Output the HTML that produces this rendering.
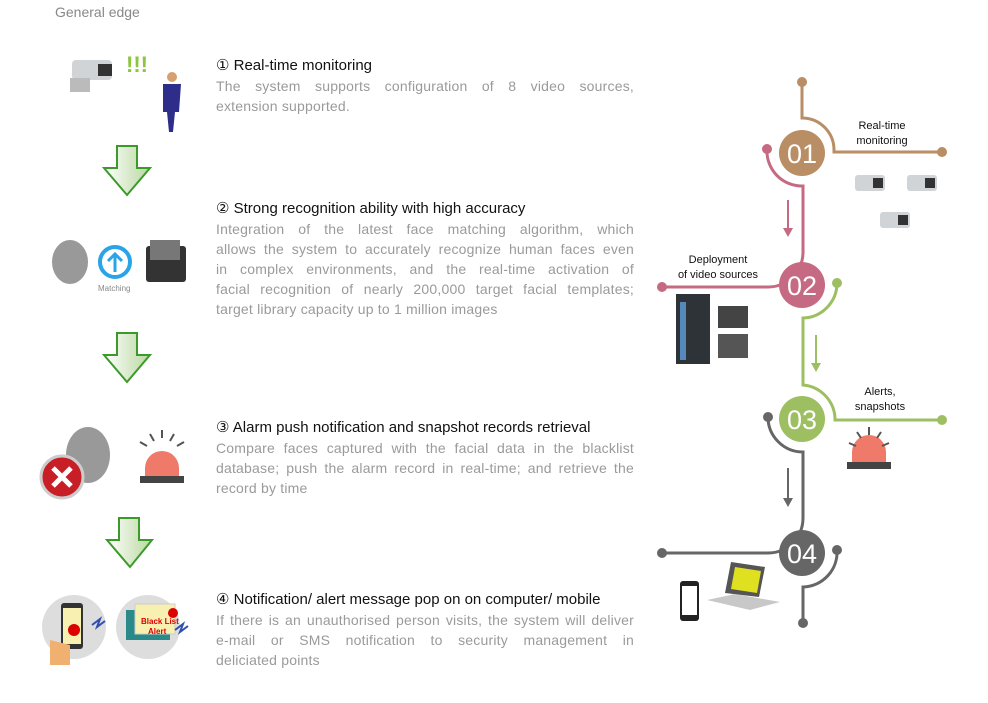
<!DOCTYPE html>
<html><head><meta charset="utf-8"><style>
body{margin:0;width:988px;height:703px;background:#fff;position:relative;overflow:hidden;font-family:"Liberation Sans",sans-serif}
.t{position:absolute;left:216px;font-size:15px;color:#111;white-space:nowrap}
.b{position:absolute;left:216px;width:418px;font-size:14px;line-height:20px;color:#9a9a9a}
.b div{text-align:justify;text-align-last:justify;white-space:nowrap;letter-spacing:0.2px}
.b div:last-child{text-align-last:left}
.s{position:absolute;font-size:11px;color:#111;text-align:center;line-height:15px}
svg{position:absolute;left:0;top:0}
</style></head><body>
<svg width="988" height="703">
<defs><linearGradient id="g" x1="0" x2="1"><stop offset="0" stop-color="#fff"/><stop offset="1" stop-color="#b8d8a0"/></linearGradient></defs>
<g stroke="#3c9a2a" stroke-width="2" fill="url(#g)">
<path d="M117 146H137V168H150L127 195L104 168H117Z"/>
<path d="M117 333H137V355H150L127 382L104 355H117Z"/>
<path d="M119 518H139V540H152L130 567L107 540H119Z"/>
</g>
<rect x="72" y="60" width="40" height="20" rx="4" fill="#d0d4d6"/><rect x="98" y="64" width="14" height="12" fill="#333"/><rect x="70" y="78" width="20" height="14" fill="#bbb"/>
<text x="126" y="72" font-size="22" font-weight="bold" fill="#8cc63f" font-family="Liberation Sans">!!!</text>
<circle cx="172" cy="77" r="5" fill="#d8a070"/><path d="M163 84h18l-2 28h-4l-2 20h-4l-2-20h-4z" fill="#2e2e8a"/>
<ellipse cx="70" cy="262" rx="18" ry="22" fill="#999"/>
<circle cx="115" cy="262" r="15" fill="none" stroke="#2aa4e8" stroke-width="4"/><path d="M115 272V254M108 261l7-7 7 7" stroke="#2aa4e8" stroke-width="3" fill="none"/>
<text x="98" y="291" font-size="8" fill="#888">Matching</text>
<rect x="146" y="246" width="40" height="36" rx="3" fill="#333"/><rect x="150" y="240" width="30" height="20" fill="#777"/>
<ellipse cx="88" cy="455" rx="22" ry="28" fill="#999"/>
<circle cx="62" cy="477" r="21" fill="#c81e26" stroke="#ccc" stroke-width="3"/><path d="M53 468l18 18M71 468l-18 18" stroke="#fff" stroke-width="5"/>
<path d="M145 468a17 17 0 0 1 34 0v10h-34z" fill="#f07a6a"/><rect x="140" y="476" width="44" height="7" fill="#444"/>
<g stroke="#555" stroke-width="2"><path d="M162 430v8M150 434l4 7M174 434l-4 7M140 442l7 4M184 442l-7 4"/></g>
<circle cx="74" cy="627" r="32" fill="#ddd"/><rect x="61" y="603" width="22" height="46" rx="3" fill="#333"/><rect x="63" y="608" width="18" height="36" fill="#f7f0b0"/><circle cx="74" cy="630" r="6" fill="#d00"/><path d="M50 640l20 5v20h-20z" fill="#f0b070"/>
<circle cx="148" cy="627" r="32" fill="#ddd"/><rect x="126" y="610" width="44" height="30" fill="#2a8a8a"/><rect x="135" y="604" width="40" height="30" fill="#f7f0b0" stroke="#ccc"/><text x="141" y="624" font-size="8" font-weight="bold" fill="#d00">Black List</text><text x="148" y="634" font-size="8" font-weight="bold" fill="#d00">Alert</text><circle cx="173" cy="613" r="5" fill="#d00"/>
<path d="M92 625l8-6-3 8 8-6M175 630l8-6-3 8 8-6" stroke="#3050b0" stroke-width="2" fill="none"/>
<g fill="none" stroke-width="3">
<path d="M802 82V118A32 32 0 0 1 834 150V152H942" stroke="#b98e65"/>
<path d="M767 149A35 35 0 0 0 803 186V252A35 35 0 0 1 768 287H662" stroke="#c56a82"/>
<path d="M837 283A35 35 0 0 1 803 318V385A35 35 0 0 1 835 418V420H942" stroke="#9dbf62"/>
<path d="M768 417A35 35 0 0 0 803 452V518A35 35 0 0 1 768 553H662" stroke="#666"/>
<path d="M837 550A35 35 0 0 1 803 587V623" stroke="#666"/>
</g>
<g fill="#b98e65"><circle cx="802" cy="82" r="5"/><circle cx="942" cy="152" r="5"/><circle cx="802" cy="153" r="23"/></g>
<g fill="#c56a82"><circle cx="767" cy="149" r="5"/><circle cx="662" cy="287" r="5"/><circle cx="802" cy="285" r="23"/></g>
<g fill="#9dbf62"><circle cx="837" cy="283" r="5"/><circle cx="942" cy="420" r="5"/><circle cx="802" cy="419" r="23"/></g>
<g fill="#666"><circle cx="768" cy="417" r="5"/><circle cx="662" cy="553" r="5"/><circle cx="837" cy="550" r="5"/><circle cx="803" cy="623" r="5"/><circle cx="802" cy="553" r="23"/></g>
<g font-family="Liberation Sans" font-size="27" fill="#fff" text-anchor="middle">
<text x="802" y="163">01</text><text x="802" y="295">02</text><text x="802" y="429">03</text><text x="802" y="563">04</text></g>
<g stroke-width="2"><path d="M788 200V235" stroke="#c56a82"/><path d="M816 335V370" stroke="#9dbf62"/><path d="M788 468V505" stroke="#666"/></g>
<path d="M783 228l5 9 5-9z" fill="#c56a82"/><path d="M811 363l5 9 5-9z" fill="#9dbf62"/><path d="M783 498l5 9 5-9z" fill="#666"/>
<g fill="#d0d4d6"><rect x="855" y="175" width="30" height="16" rx="3"/><rect x="907" y="175" width="30" height="16" rx="3"/><rect x="880" y="212" width="30" height="16" rx="3"/></g>
<g fill="#333"><rect x="873" y="178" width="10" height="10"/><rect x="925" y="178" width="10" height="10"/><rect x="898" y="215" width="10" height="10"/></g>
<rect x="676" y="294" width="34" height="70" fill="#2e3338"/><rect x="680" y="302" width="6" height="58" fill="#5588bb"/>
<rect x="718" y="306" width="30" height="22" fill="#444"/><rect x="718" y="334" width="30" height="24" fill="#555"/>
<path d="M852 452a17 17 0 0 1 34 0v12h-34z" fill="#f07a6a"/><rect x="847" y="462" width="44" height="7" fill="#444"/>
<g stroke="#555" stroke-width="2"><path d="M869 427v8M857 432l4 6M881 432l-4 6M849 443l7 3M889 443l-7 3"/></g>
<rect x="680" y="581" width="19" height="40" rx="3" fill="#222"/><rect x="682" y="586" width="15" height="29" fill="#fff"/>
<path d="M731 562l34 5-6 30-34-4z" fill="#555"/><path d="M735 567l26 4-4 22-26-4z" fill="#dfe020"/><path d="M707 600l28-6 45 8-30 8z" fill="#c8c8c8"/>
</svg>
<div style="position:absolute;left:55px;top:4px;font-size:14px;color:#888">General edge</div>
<div class="t" style="top:56px">① Real-time monitoring</div>
<div class="b" style="top:76px"><div>The system supports configuration of 8 video sources,</div><div>extension supported.</div></div>
<div class="t" style="top:199px">② Strong recognition ability with high accuracy</div>
<div class="b" style="top:219px"><div>Integration of the latest face matching algorithm, which</div><div>allows the system to accurately recognize human faces even</div><div>in complex environments,  and the real-time activation of</div><div>facial recognition of nearly 200,000 target facial templates;</div><div>target library capacity up to 1 million images</div></div>
<div class="t" style="top:418px">③ Alarm push notification and snapshot records retrieval</div>
<div class="b" style="top:438px"><div>Compare faces captured with the facial data in the blacklist</div><div>database; push the alarm record in real-time; and retrieve the</div><div>record by time</div></div>
<div class="t" style="top:590px">④ Notification/ alert message pop on on computer/ mobile</div>
<div class="b" style="top:610px"><div>If there is an unauthorised person visits, the system will deliver</div><div>e-mail or SMS notification to security management in</div><div>deliciated points</div></div>
<div class="s" style="left:840px;top:119px;width:84px">Real-time<br>monitoring</div>
<div class="s" style="left:668px;top:253px;width:100px">Deployment<br>of video sources</div>
<div class="s" style="left:840px;top:385px;width:80px">Alerts,<br>snapshots</div>
</body></html>
